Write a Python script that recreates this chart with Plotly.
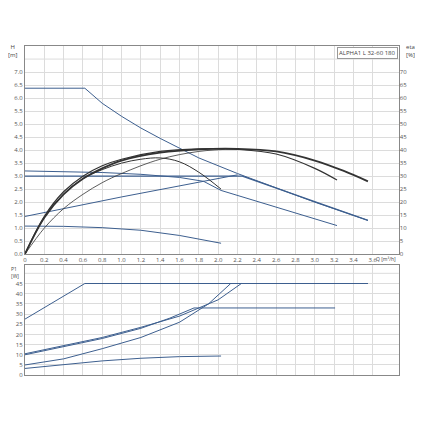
import plotly.graph_objects as go

# H [m] vs Q [m3/h] -- blue control curves
q_max = [0, 0.62, 0.8, 1.0, 1.2, 1.4, 1.8, 2.2, 2.6, 3.0, 3.55]
h_max = [6.38, 6.38, 5.8, 5.3, 4.85, 4.45, 3.7, 3.1, 2.55, 2.0, 1.3]
q_cp1 = [0, 0.4, 0.8, 1.2, 1.6, 1.85, 2.03, 3.23]
h_cp1 = [3.2, 3.18, 3.14, 3.07, 2.95, 2.8, 2.45, 1.1]
q_cp2 = [0, 1.0, 2.25, 3.55]
h_cp2 = [3.0, 3.0, 3.0, 1.3]
q_pp = [0, 1.0, 2.2]
h_pp = [1.45, 2.2, 3.05]
q_low = [0, 0.4, 0.8, 1.2, 1.6, 2.03]
h_low = [1.08, 1.07, 1.02, 0.92, 0.72, 0.42]

# eta [%] curves (black)
q_e1 = [0, 0.2, 0.4, 0.6, 0.8, 1.0, 1.4, 1.8, 2.2, 2.6, 3.0, 3.3, 3.55]
e_e1 = [0, 14, 23, 29, 33, 36, 39, 40.3, 40.5, 39.5, 36, 32, 28]
q_e2 = [0, 0.2, 0.4, 0.6, 0.8, 1.0, 1.4, 1.8, 2.2, 2.6, 3.0, 3.23]
e_e2 = [0, 14.5, 24, 30, 34, 36.5, 39.5, 40.5, 40.3, 38.5, 33, 28.5]
q_e3 = [0, 0.2, 0.4, 0.6, 0.8, 1.0, 1.2, 1.4, 1.6, 1.8, 2.03]
e_e3 = [0, 14, 23, 29, 32.5, 35, 36.5, 37, 35.5, 31.5, 25]
q_e4 = [0, 0.2, 0.4, 0.6, 0.8, 1.0, 1.4, 1.8, 2.2]
e_e4 = [0, 10, 17.5, 23, 27.5, 31, 36.5, 39.5, 40.5]

# P1 [W]
q_p1 = [0, 0.62, 3.55]
p_p1 = [27.5, 45, 45]
q_p2 = [0, 0.4, 0.8, 1.2, 1.6, 2.0, 2.24, 3.55]
p_p2 = [10.5, 14.5, 18.5, 23.5, 29, 37, 45, 45]
q_p3 = [0, 0.4, 0.8, 1.2, 1.5, 1.75, 3.21]
p_p3 = [10, 14, 18, 23, 28, 33, 33]
q_p4 = [0, 0.4, 0.8, 1.2, 1.6, 1.9, 2.13, 3.55]
p_p4 = [5, 8, 13, 18.5, 26, 35, 45, 45]
q_p5 = [0, 0.4, 0.8, 1.2, 1.6, 2.03]
p_p5 = [3.3, 5.2, 7, 8.3, 9.1, 9.4]

q_ticks = [round(0.2 * i, 1) for i in range(19)]
h_ticks = [0.5 * i for i in range(15)]
eta_ticks = [5 * i for i in range(15)]
p_ticks = [5 * i for i in range(10)]

blue = "#3d5f8f"
fig = go.Figure()
for qx, hy, w in [(q_max, h_max, 1), (q_cp1, h_cp1, 1), (q_cp2, h_cp2, 1.3),
                  (q_pp, h_pp, 1), (q_low, h_low, 1)]:
    fig.add_trace(go.Scatter(x=qx, y=hy, mode="lines", line=dict(color=blue, width=w)))
for qx, ey, w in [(q_e1, e_e1, 1.8), (q_e2, e_e2, 1.2), (q_e3, e_e3, 1), (q_e4, e_e4, 0.8)]:
    fig.add_trace(go.Scatter(x=qx, y=ey, mode="lines", yaxis="y3",
                             line=dict(color="#333", width=w, shape="spline")))
for qx, py in [(q_p1, p_p1), (q_p2, p_p2), (q_p3, p_p3), (q_p4, p_p4), (q_p5, p_p5)]:
    fig.add_trace(go.Scatter(x=qx, y=py, mode="lines", xaxis="x2", yaxis="y2",
                             line=dict(color=blue, width=1)))

ax = dict(showgrid=True, gridcolor="#dcdcdc", gridwidth=1, zeroline=False,
          showline=True, linecolor="#888", linewidth=1, mirror=True, automargin=False,
          tickfont=dict(size=6, color="#555"), ticks="")
fig.update_layout(
    width=423, height=423, margin=dict(l=0, r=0, t=0, b=0, autoexpand=False),
    plot_bgcolor="white", paper_bgcolor="white", showlegend=False,
    xaxis=dict(ax, domain=[0.040, 0.924], range=[0, 3.87], tickvals=q_ticks,
               ticktext=[str(v) if v else "0" for v in q_ticks], anchor="y"),
    yaxis=dict(ax, domain=[0.418, 0.910], range=[0, 8], tickvals=h_ticks,
               ticktext=["%.1f" % v for v in h_ticks]),
    yaxis3=dict(ax, overlaying="y", side="right", range=[0, 80], tickvals=eta_ticks,
                showgrid=False, showline=False),
    xaxis2=dict(ax, domain=[0.040, 0.924], range=[0, 3.87], tickvals=q_ticks,
                showticklabels=False, anchor="y2"),
    yaxis2=dict(ax, domain=[0.132, 0.392], range=[0, 54], tickvals=p_ticks),
)
fig.add_shape(type="line", xref="x", yref="y", x0=0, x1=3.87, y0=7.5, y1=7.5,
              line=dict(color="#dcdcdc", width=1), layer="below")
fig.add_shape(type="line", xref="x2", yref="y2", x0=0, x1=3.87, y0=50, y1=50,
              line=dict(color="#dcdcdc", width=1), layer="below")
txt = dict(showarrow=False, font=dict(size=6, color="#444"))
fig.add_annotation(xref="paper", yref="paper", x=0.012, y=0.921, text="H<br>[m]", xanchor="center", yanchor="top", **txt)
fig.add_annotation(xref="paper", yref="paper", x=0.952, y=0.921, text="eta<br>[%]", xanchor="center", yanchor="top", **txt)
fig.add_annotation(xref="paper", yref="paper", x=0.002, y=0.395, text="P1<br>[W]", xanchor="left", yanchor="top",
                   align="left", showarrow=False, font=dict(size=5, color="#444"))
fig.add_annotation(xref="paper", yref="paper", x=0.921, y=0.406, text="Q [m³/h]", xanchor="right", yanchor="middle",
                   showarrow=False, font=dict(size=5, color="#444"))
fig.add_annotation(xref="paper", yref="paper", x=0.923, y=0.908, text="ALPHA1 L 32-60 180", xanchor="right", yanchor="top",
                   bgcolor="white", bordercolor="#999", borderwidth=1, borderpad=1, **txt)
fig.write_html("out.html")
